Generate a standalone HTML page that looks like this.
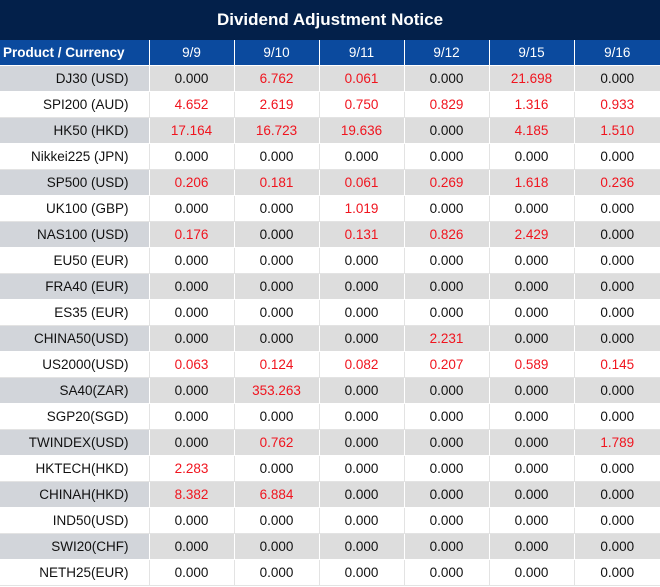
<!DOCTYPE html>
<html><head><meta charset="utf-8"><style>
body{margin:0;width:660px;height:587px;overflow:hidden;background:#fff;font-family:"Liberation Sans",sans-serif;}
.t{height:40px;background:#03204a;color:#fff;font-weight:bold;font-size:17px;text-align:center;line-height:40px;}
table{border-collapse:collapse;table-layout:fixed;width:660px;}
td{height:25px;padding:0;border:1px solid #e3e3e3;text-align:center;font-size:13.5px;color:#111;}
tr.h td{background:#0b4a9e;color:#fff;border-color:#fff;border-top:none;}
tr.h td:first-child{text-align:left;font-weight:bold;padding-left:3px;}
tr.g td{background:#dddddd;border-color:#fff;}
tr.g td:first-child{background:#d2d5da;}
td:first-child{text-align:right;padding-right:20px;border-left:none;}
td:last-child{border-right:none;}
.r{color:#f0141e;}
</style></head><body>
<div class="t">Dividend Adjustment Notice</div>
<table>
<colgroup><col style="width:149px"><col style="width:85px"><col style="width:85px"><col style="width:85px"><col style="width:85px"><col style="width:85px"><col style="width:86px"></colgroup>
<tr class="h"><td>Product / Currency</td><td>9/9</td><td>9/10</td><td>9/11</td><td>9/12</td><td>9/15</td><td>9/16</td></tr>
<tr class="g"><td>DJ30 (USD)</td><td>0.000</td><td class="r">6.762</td><td class="r">0.061</td><td>0.000</td><td class="r">21.698</td><td>0.000</td></tr>
<tr><td>SPI200 (AUD)</td><td class="r">4.652</td><td class="r">2.619</td><td class="r">0.750</td><td class="r">0.829</td><td class="r">1.316</td><td class="r">0.933</td></tr>
<tr class="g"><td>HK50 (HKD)</td><td class="r">17.164</td><td class="r">16.723</td><td class="r">19.636</td><td>0.000</td><td class="r">4.185</td><td class="r">1.510</td></tr>
<tr><td>Nikkei225 (JPN)</td><td>0.000</td><td>0.000</td><td>0.000</td><td>0.000</td><td>0.000</td><td>0.000</td></tr>
<tr class="g"><td>SP500 (USD)</td><td class="r">0.206</td><td class="r">0.181</td><td class="r">0.061</td><td class="r">0.269</td><td class="r">1.618</td><td class="r">0.236</td></tr>
<tr><td>UK100 (GBP)</td><td>0.000</td><td>0.000</td><td class="r">1.019</td><td>0.000</td><td>0.000</td><td>0.000</td></tr>
<tr class="g"><td>NAS100 (USD)</td><td class="r">0.176</td><td>0.000</td><td class="r">0.131</td><td class="r">0.826</td><td class="r">2.429</td><td>0.000</td></tr>
<tr><td>EU50 (EUR)</td><td>0.000</td><td>0.000</td><td>0.000</td><td>0.000</td><td>0.000</td><td>0.000</td></tr>
<tr class="g"><td>FRA40 (EUR)</td><td>0.000</td><td>0.000</td><td>0.000</td><td>0.000</td><td>0.000</td><td>0.000</td></tr>
<tr><td>ES35 (EUR)</td><td>0.000</td><td>0.000</td><td>0.000</td><td>0.000</td><td>0.000</td><td>0.000</td></tr>
<tr class="g"><td>CHINA50(USD)</td><td>0.000</td><td>0.000</td><td>0.000</td><td class="r">2.231</td><td>0.000</td><td>0.000</td></tr>
<tr><td>US2000(USD)</td><td class="r">0.063</td><td class="r">0.124</td><td class="r">0.082</td><td class="r">0.207</td><td class="r">0.589</td><td class="r">0.145</td></tr>
<tr class="g"><td>SA40(ZAR)</td><td>0.000</td><td class="r">353.263</td><td>0.000</td><td>0.000</td><td>0.000</td><td>0.000</td></tr>
<tr><td>SGP20(SGD)</td><td>0.000</td><td>0.000</td><td>0.000</td><td>0.000</td><td>0.000</td><td>0.000</td></tr>
<tr class="g"><td>TWINDEX(USD)</td><td>0.000</td><td class="r">0.762</td><td>0.000</td><td>0.000</td><td>0.000</td><td class="r">1.789</td></tr>
<tr><td>HKTECH(HKD)</td><td class="r">2.283</td><td>0.000</td><td>0.000</td><td>0.000</td><td>0.000</td><td>0.000</td></tr>
<tr class="g"><td>CHINAH(HKD)</td><td class="r">8.382</td><td class="r">6.884</td><td>0.000</td><td>0.000</td><td>0.000</td><td>0.000</td></tr>
<tr><td>IND50(USD)</td><td>0.000</td><td>0.000</td><td>0.000</td><td>0.000</td><td>0.000</td><td>0.000</td></tr>
<tr class="g"><td>SWI20(CHF)</td><td>0.000</td><td>0.000</td><td>0.000</td><td>0.000</td><td>0.000</td><td>0.000</td></tr>
<tr><td>NETH25(EUR)</td><td>0.000</td><td>0.000</td><td>0.000</td><td>0.000</td><td>0.000</td><td>0.000</td></tr>
</table>
</body></html>
